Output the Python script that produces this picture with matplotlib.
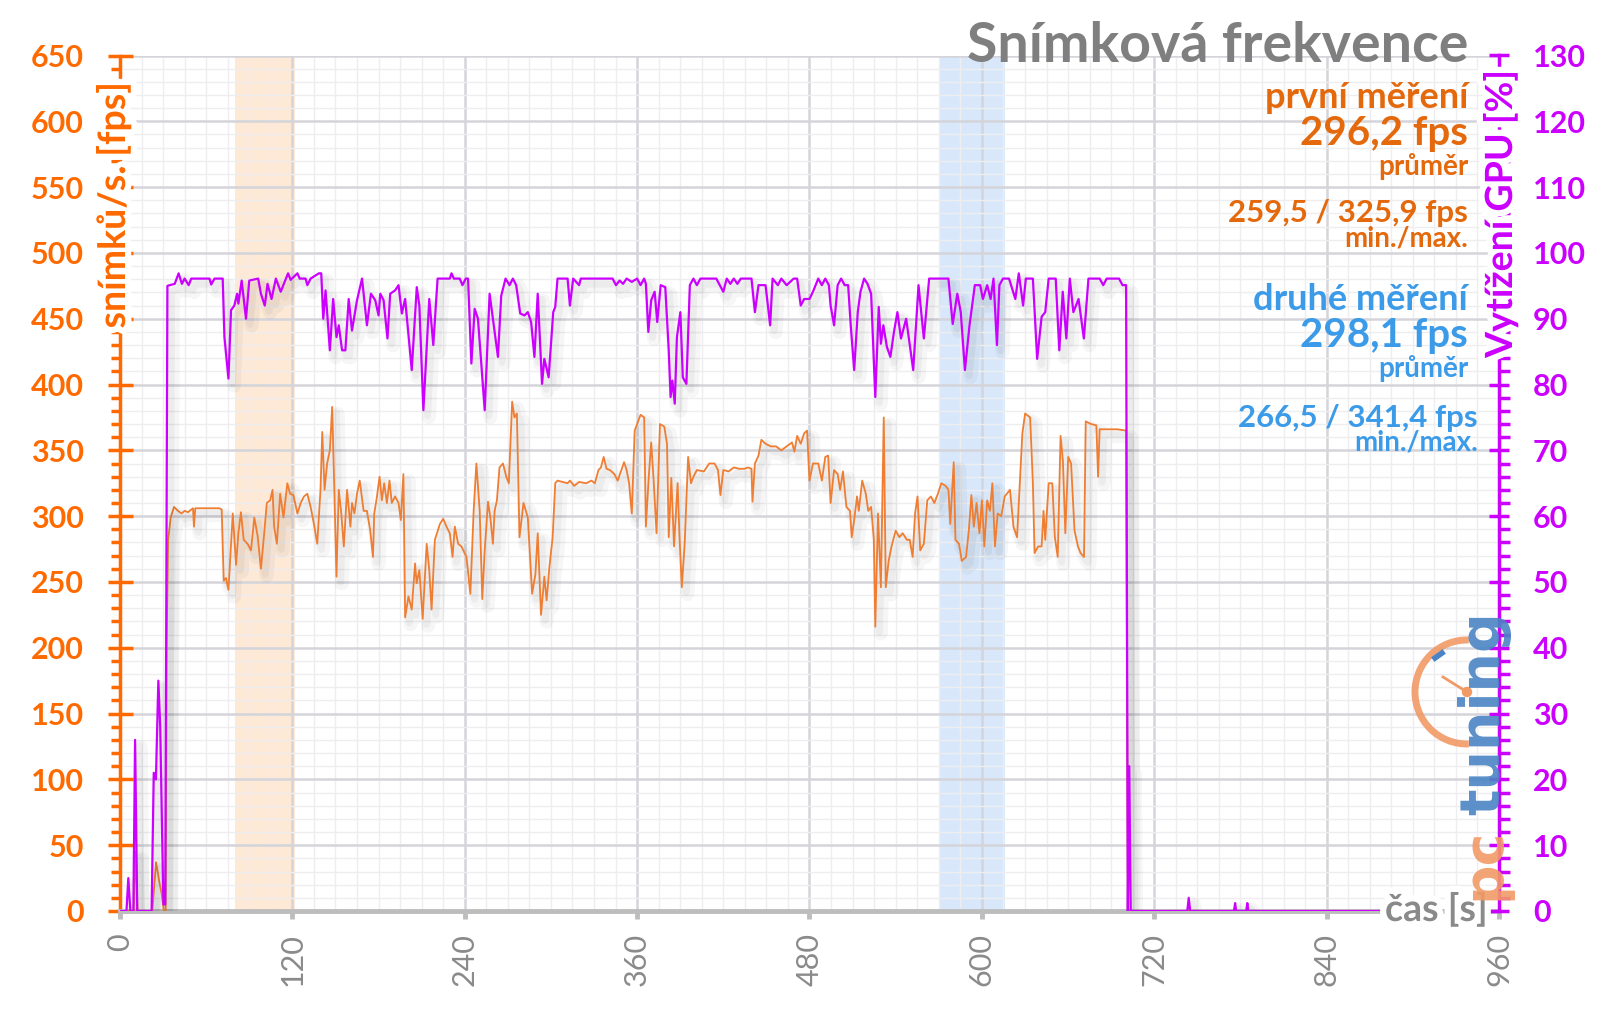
import matplotlib
matplotlib.use("Agg")
import matplotlib.pyplot as plt
import matplotlib.patheffects as pe
from matplotlib.patches import Arc, Circle
from matplotlib.lines import Line2D
from matplotlib.ticker import MultipleLocator
from matplotlib.transforms import IdentityTransform

plt.rcParams['font.family'] = ['Lato', 'DejaVu Sans']

# cas [s] / snimky za sekundu
fps_time = [0, 9.5, 11, 12.2, 22.5, 25.1, 27.4, 29.0, 30.5, 31.8, 32.4, 33.5, 35.3, 37.6, 40.4, 42.7, 45.0, 47.3,
            50.8, 51.5, 52.4, 69.2, 70.8, 72.2, 73.8, 75.5, 78.5, 80.8, 82.4, 84.2, 86.1, 88.8, 91.2, 93.5, 95.8,
            98.1, 100.4, 102.2, 104.5, 106.2, 107.3, 109.2, 111.5, 113.8, 116.5, 118.4, 120.7, 123.5, 125.8, 128.1,
            130.4, 132.7, 135.0, 137.3, 139.6, 140.8, 142.4, 144.2, 146.1, 147.7, 148.8, 150.7, 152.3, 153.9, 155.8,
            158.1, 160.4, 161.5, 163.2, 165.0, 166.9, 169.6, 171.9, 174.2, 176.1, 177.0, 178.9, 180.7, 182.3, 183.9,
            185.8, 187.6, 189.2, 191.5, 193.9, 195.5, 197.3, 198.5, 200.8, 203.1, 205.4, 206.5, 208.4, 210.7, 213.5,
            215.3, 216.9, 219.2, 222.7, 225.0, 227.3, 229.6, 231.5, 233.1, 235.4, 237.7, 241.2, 243.9, 246.2, 248.1,
            250.4, 252.2, 253.9, 256.2, 257.8, 259.6, 260.8, 262.4, 264.2, 266.6, 268.9, 270.7, 273.0, 274.6, 276.3,
            278.1, 280.9, 283.9, 286.9, 289.2, 290.8, 293.1, 295.4, 297.0, 298.9, 301.2, 303.0, 304.6, 308.1, 311.6,
            313.2, 316.2, 319.6, 324.5, 328.2, 330.6, 333.1, 334.8, 336.7, 338.7, 341.1, 344.1, 346.5, 349.0, 350.9,
            352.7, 354.4, 356.3, 358.3, 360.0, 362.4, 364.9, 366.1, 368.1, 369.8, 371.5, 373.5, 375.9, 378.9, 380.8,
            382.0, 383.8, 385.7, 388.2, 389.4, 391.1, 393.1, 395.5, 397.5, 399.2, 401.6, 406.5, 410.2, 413.9, 416.3,
            418.0, 420.0, 423.7, 427.3, 431.0, 434.7, 437.1, 439.6, 440.3, 442.0, 444.5, 446.5, 449.4, 453.1, 456.7,
            460.4, 464.1, 467.8, 469.5, 471.4, 473.9, 476.3, 478.3, 480.0, 482.4, 486.1, 488.6, 491.0, 493.0, 494.7,
            497.1, 499.6, 501.3, 503.3, 505.7, 508.2, 509.4, 511.1, 513.1, 514.3, 516.7, 519.2, 520.9, 522.9, 524.8,
            525.8, 527.7, 529.7, 531.7, 533.1, 535.1, 537.1, 540.0, 542.5, 544.9, 547.8, 549.8, 551.8, 553.5, 555.2,
            557.1, 559.6, 562.0, 564.5, 566.9, 569.4, 571.8, 574.8, 576.7, 578.0, 580.4, 581.6, 584.1, 586.0, 589.0,
            590.9, 592.7, 594.4, 596.3, 598.3, 600.0, 601.7, 603.7, 605.6, 607.3, 609.1, 611.0, 613.5, 615.9, 619.6,
            622.0, 624.5, 626.2, 628.2, 630.1, 633.6, 635.5, 636.7, 639.2, 641.6, 642.9, 644.1, 646.5, 649.0, 650.8,
            652.8, 654.8, 656.4, 658.1, 660.1, 662.1, 664.5, 666.9, 668.7, 671.1, 672.3, 676.0, 679.7, 680.9, 682.0,
            687.0, 694.3, 700.4, 701.6, 880]
fps_value = [0, 0, 45, 0, 0, 37, 22, 13, 0, 0, 198, 282, 299, 307, 304, 302, 304, 303,
             306, 292, 306, 306, 305, 251, 253, 244, 302, 263, 287, 303, 282, 279, 274, 299, 285,
             260, 287, 310, 312, 320, 292, 279, 317, 299, 325, 317, 316, 302, 310, 315,
             317, 307, 294, 279, 320, 364, 320, 340, 350, 383, 337, 254, 320, 304, 277,
             320, 292, 310, 302, 317, 327, 304, 304, 289, 269, 302, 315, 330, 312, 325,
             310, 327, 310, 315, 310, 297, 332, 223, 239, 229, 264, 249, 259, 222, 279,
             259, 229, 282, 294, 298, 292, 287, 269, 292, 279, 277, 269, 241, 304, 340,
             304, 237, 274, 311, 299, 279, 304, 312, 337, 340, 330, 325, 387, 375, 378,
             284, 310, 299, 241, 256, 287, 225, 254, 236, 261, 284, 325, 327, 326, 325,
             327, 323, 326, 325, 327, 325, 335, 337, 345, 336, 335, 332, 327, 335, 341,
             335, 325, 302, 365, 370, 377, 375, 292, 330, 356, 327, 287, 370, 368, 355,
             284, 329, 277, 325, 287, 246, 279, 345, 325, 330, 335, 334, 340, 340, 335,
             316, 335, 334, 337, 336, 336, 337, 336, 311, 340, 346, 358, 355, 353, 353,
             350, 353, 356, 349, 361, 355, 363, 365, 327, 340, 340, 327, 345, 346, 310,
             335, 332, 320, 334, 307, 304, 284, 297, 315, 304, 327, 317, 304, 307, 282,
             216, 302, 246, 375, 246, 266, 277, 289, 284, 287, 282, 282, 269, 302, 315,
             274, 279, 312, 315, 310, 317, 325, 323, 320, 294, 341, 282, 279, 266, 269,
             289, 316, 292, 310, 287, 312, 277, 312, 304, 325, 277, 302, 300, 315, 320,
             292, 284, 320, 363, 378, 375, 325, 272, 277, 277, 304, 282, 325, 325, 284,
             269, 361, 342, 287, 345, 340, 289, 277, 272, 269, 372, 370, 369, 330, 366,
             366, 366, 365, 0, 0]

# cas [s] / vytizeni GPU [%]
gpu_time = [0, 4.5, 5.8, 7.2, 9.3, 10.5, 12.0, 22.0, 23.5, 25.0, 26.7, 28.0, 30.2, 31.5, 33.0,
            34.6, 38.1, 40.8, 43.1, 45.0, 47.8, 49.6, 62.3, 63.5, 65.8, 71.5, 72.7, 75.5, 77.3, 79.6, 81.5, 82.4,
            84.7, 87.7, 90.0, 96.2, 98.1, 100.8, 102.7, 105.5, 108.5, 111.9, 117.0, 118.8, 123.5, 125.1, 129.2,
            130.4, 132.7, 138.5, 140.1, 141.5, 143.1, 146.1, 148.4, 150.7, 152.3, 154.6, 156.9, 159.2, 161.5,
            165.0, 168.5, 171.9, 174.7, 177.7, 180.0, 181.2, 183.5, 186.2, 188.1, 191.5, 193.9, 196.2, 198.5,
            203.1, 206.6, 208.4, 211.2, 215.3, 218.1, 221.1, 229.6, 230.8, 232.4, 236.5, 238.4, 240.7, 242.3,
            244.6, 246.9, 249.2, 253.9, 257.3, 259.6, 263.1, 265.4, 268.4, 271.2, 273.5, 275.8, 278.6, 281.6,
            283.9, 286.2, 288.5, 290.8, 293.8, 295.4, 298.4, 301.6, 303.0, 304.6, 311.6, 313.2, 315.5, 319.6,
            320.8, 342.9, 345.3, 347.8, 350.2, 352.7, 356.3, 360.0, 362.4, 364.9, 366.1, 367.8, 369.8, 372.2,
            374.0, 376.4, 379.6, 382.0, 383.3, 384.5, 386.2, 387.7, 390.1, 391.8, 394.3, 396.7, 399.2, 401.6,
            404.1, 415.1, 420.0, 422.4, 424.9, 427.3, 429.8, 432.2, 439.6, 442.0, 444.5, 449.4, 452.6, 454.3,
            458.0, 460.4, 464.1, 469.0, 471.4, 473.9, 476.3, 480.0, 482.4, 486.1, 488.6, 491.0, 493.5, 494.7,
            497.1, 499.6, 502.0, 504.5, 506.9, 508.7, 511.1, 513.6, 515.5, 518.0, 520.4, 522.9, 525.8, 528.2,
            529.7, 531.4, 533.9, 536.3, 538.8, 541.2, 543.7, 547.3, 552.2, 555.9, 559.6, 563.3, 576.7, 579.7,
            582.9, 585.3, 588.2, 591.4, 595.1, 598.8, 600.7, 603.7, 606.1, 608.1, 610.5, 612.2, 614.7, 618.9,
            623.3, 625.7, 628.7, 630.6, 635.5, 638.5, 641.6, 644.1, 646.5, 651.4, 653.9, 656.3, 658.8, 661.2,
            663.7, 667.3, 671.0, 674.2, 682.0, 684.5, 686.9, 695.5, 697.9, 700.4, 701.6, 702.6, 703.6, 743,
            744, 745, 775.5, 776.3, 777, 784, 784.8, 785.5, 880]
gpu_load = [0, 0, 5, 0, 0, 26, 0, 0, 21, 20, 35, 28, 1, 1, 95,
            95.1, 95.3, 96.9, 95.3, 96.1, 95.1, 96.1, 96.1, 95.2, 96.1, 96.1, 87.2, 80.9, 91.3, 92.0, 93.8, 92.3,
            95.8, 90.0, 95.8, 96.1, 93.8, 92.0, 95.3, 93.0, 96.1, 94.1, 96.9, 95.9, 96.9, 96.1, 96.1,
            95.1, 96.1, 96.9, 96.9, 90.0, 94.3, 85.2, 93.0, 87.2, 89.0, 85.2, 85.2, 93.0, 88.2,
            92.8, 96.1, 89.0, 93.8, 92.8, 90.5, 93.8, 92.8, 87.0, 93.8, 94.3, 95.1, 90.8, 93.0,
            82.2, 94.8, 92.0, 76.1, 93.0, 86.0, 96.1, 96.1, 96.9, 96.1, 96.1, 95.1, 96.1, 96.1,
            83.2, 91.5, 90.0, 76.1, 93.8, 90.0, 84.2, 93.5, 96.1, 95.1, 96.1, 95.1, 90.8, 90.5,
            91.0, 89.5, 84.2, 93.8, 80.1, 83.9, 81.1, 91.0, 91.8, 96.1, 96.1, 92.0, 96.1, 95.1,
            96.1, 96.1, 95.1, 95.8, 95.3, 96.1, 95.6, 96.1, 95.1, 96.1, 95.3, 88.0, 92.8, 94.1,
            89.5, 95.1, 94.8, 85.2, 78.1, 80.6, 77.1, 87.2, 91.0, 81.1, 80.1, 95.1, 96.1, 95.1,
            96.1, 96.1, 94.1, 96.1, 95.3, 96.1, 95.3, 96.1, 96.1, 91.0, 95.1, 95.1, 89.0, 96.1,
            95.1, 96.1, 95.1, 96.1, 96.1, 92.0, 93.0, 93.0, 94.1, 96.1, 95.1, 96.1, 95.1, 92.0,
            89.0, 95.1, 96.1, 95.1, 95.1, 89.0, 82.2, 91.0, 94.1, 96.1, 95.3, 93.8, 78.1, 91.8,
            86.2, 89.0, 85.7, 84.2, 88.0, 91.0, 87.0, 90.0, 82.2, 95.1, 87.0, 96.1, 96.1, 89.2,
            93.8, 91.0, 82.2, 89.0, 95.1, 95.1, 93.0, 95.1, 93.0, 96.1, 86.0, 95.1, 96.1, 96.1,
            93.0, 96.9, 92.0, 96.1, 96.1, 83.9, 90.3, 91.0, 96.1, 96.1, 85.2, 94.1, 87.0, 96.1,
            91.0, 93.0, 87.0, 96.1, 96.1, 95.1, 96.1, 96.1, 95.1, 95.1, 0, 22, 0, 0,
            2, 0, 0, 1.2, 0, 0, 1.2, 0, 0]

fps_ticks = list(range(0, 651, 50))
gpu_ticks = list(range(0, 131, 10))
time_ticks = list(range(0, 961, 120))

first_span = (80, 122)
second_span = (571, 616)

orange_axis = "#ff6a00"
orange_text = "#e4680c"
orange_line = "#ef7d32"
blue_text = "#3c9be8"
magenta = "#cc00ff"
gray = "#8a8a8a"

fig = plt.figure(figsize=(16, 10.09), dpi=100)
ax = fig.add_axes([120 / 1600, 1 - 911 / 1009, 1379 / 1600, 855.5 / 1009])
ax2 = ax.twinx()

ax.set_xlim(0, 960)
ax.set_ylim(0, 650)
ax2.set_ylim(0, 130)

ax.axvspan(*first_span, color="#fde9d6", zorder=0.1, lw=0)
ax.axvspan(*second_span, color="#d8e8fa", zorder=0.1, lw=0)

# grid
ax.set_axisbelow(True)
ax.xaxis.set_minor_locator(MultipleLocator(15))
ax.yaxis.set_minor_locator(MultipleLocator(10))
ax2.yaxis.set_minor_locator(MultipleLocator(2))
ax.grid(True, which="major", color="#d4d4da", lw=1.8)
ax.grid(True, which="minor", color="#eeeef1", lw=1.0)

# soft shadow under the lines
shadow = [pe.SimpleLineShadow(offset=(4, -5), shadow_color="black", alpha=0.035, linewidth=10),
          pe.SimpleLineShadow(offset=(3, -4), shadow_color="black", alpha=0.04, linewidth=5),
          pe.Normal()]
ax.plot(fps_time, fps_value, color=orange_line, lw=1.3, zorder=3, path_effects=shadow)
ax2.plot(gpu_time, gpu_load, color=magenta, lw=1.6, zorder=3, path_effects=shadow)

# spines
for s in ["top", "right"]:
    ax.spines[s].set_visible(False)
for s in ["top", "left", "bottom"]:
    ax2.spines[s].set_visible(False)
ax.spines["left"].set_color(orange_axis)
ax.spines["left"].set_linewidth(2.5)
ax.spines["bottom"].set_color("#bdbdbd")
ax.spines["bottom"].set_linewidth(3.5)
ax2.spines["right"].set_color(magenta)
ax2.spines["right"].set_linewidth(2.5)

# ticks
ax.set_xticks(time_ticks)
ax.set_xticklabels([str(t) for t in time_ticks], rotation=90, color=gray, fontsize=22)
ax.tick_params(axis="x", which="major", direction="out", length=6, width=3.5, color="#bdbdbd", pad=10)
ax.tick_params(axis="x", which="minor", length=0)

ax.set_yticks(fps_ticks)
ax.set_yticklabels([str(v) for v in fps_ticks], fontweight="bold", fontsize=22, color=orange_axis)
ax.tick_params(axis="y", which="major", direction="inout", length=18, width=2.5, color=orange_axis, pad=17)
ax.tick_params(axis="y", which="minor", direction="out", length=6.5, width=2.5, color=orange_axis)

ax2.set_yticks(gpu_ticks)
ax2.set_yticklabels([str(v) for v in gpu_ticks], fontweight="bold", fontsize=22, color=magenta)
ax2.tick_params(axis="y", which="major", direction="inout", length=15, width=2.5, color=magenta, pad=17)
ax2.tick_params(axis="y", which="minor", direction="out", length=8, width=2.5, color=magenta)


def px_text(x, y, s, **kw):
    return fig.text(x / 1600, 1 - y / 1009, s, **kw)


halo = [pe.withStroke(linewidth=9, foreground="white")]
px_text(113, 205, "snímků/s. [fps]", rotation=90, ha="center", va="center", color=orange_axis,
        fontsize=27, fontweight="bold", path_effects=halo)
px_text(1500, 214, "Vytížení GPU [%]", rotation=90, ha="center", va="center", color=magenta,
        fontsize=27, fontweight="bold", path_effects=halo)
px_text(1488, 909, "čas [s]", ha="right", va="center", color=gray, fontsize=27, fontweight="bold",
        path_effects=halo)

px_text(1468, 46, "Snímková frekvence", ha="right", va="center", color="#7f7f7f", fontsize=40, fontweight="bold")

px_text(1468, 98, "první měření", ha="right", va="center", color=orange_text, fontsize=26, fontweight="bold")
px_text(1468, 133, "296,2 fps", ha="right", va="center", color=orange_text, fontsize=29, fontweight="bold")
px_text(1468, 166, "průměr", ha="right", va="center", color=orange_text, fontsize=20, fontweight="bold")
px_text(1468, 213, "259,5 / 325,9 fps", ha="right", va="center", color=orange_text, fontsize=22.5, fontweight="bold")
px_text(1468, 238, "min./max.", ha="right", va="center", color=orange_text, fontsize=20, fontweight="bold")

px_text(1468, 299, "druhé měření", ha="right", va="center", color=blue_text, fontsize=26, fontweight="bold")
px_text(1468, 335, "298,1 fps", ha="right", va="center", color=blue_text, fontsize=29, fontweight="bold")
px_text(1468, 368, "průměr", ha="right", va="center", color=blue_text, fontsize=20, fontweight="bold")
px_text(1478, 418, "266,5 / 341,4 fps", ha="right", va="center", color=blue_text, fontsize=22.5, fontweight="bold")
px_text(1478, 443, "min./max.", ha="right", va="center", color=blue_text, fontsize=20, fontweight="bold")

# logo pctuning
logo_orange = "#f29a66"
logo_blue = "#4a84c4"
px_text(1484, 900, "pc", rotation=90, ha="center", va="bottom", color=logo_orange, fontsize=40,
        fontweight="bold", family="DejaVu Sans", alpha=0.9)
px_text(1484, 815, "tuning", rotation=90, ha="center", va="bottom", color=logo_blue, fontsize=40,
        fontweight="bold", family="DejaVu Sans", alpha=0.9)
cx, cy = 1467, 1009 - 692
fig.add_artist(Arc((cx, cy), 104, 104, theta1=88, theta2=272, color=logo_orange, lw=5,
                   transform=IdentityTransform(), alpha=0.9))
fig.add_artist(Line2D([cx, cx - 24], [cy, cy + 15], color=logo_orange, lw=2, transform=IdentityTransform()))
fig.add_artist(Circle((cx, cy), 4.5, color=logo_orange, transform=IdentityTransform()))
fig.add_artist(Line2D([cx - 32, cx - 25], [cy + 34, cy + 39], color=logo_blue, lw=4, transform=IdentityTransform()))

fig.savefig("out.png", dpi=100)
